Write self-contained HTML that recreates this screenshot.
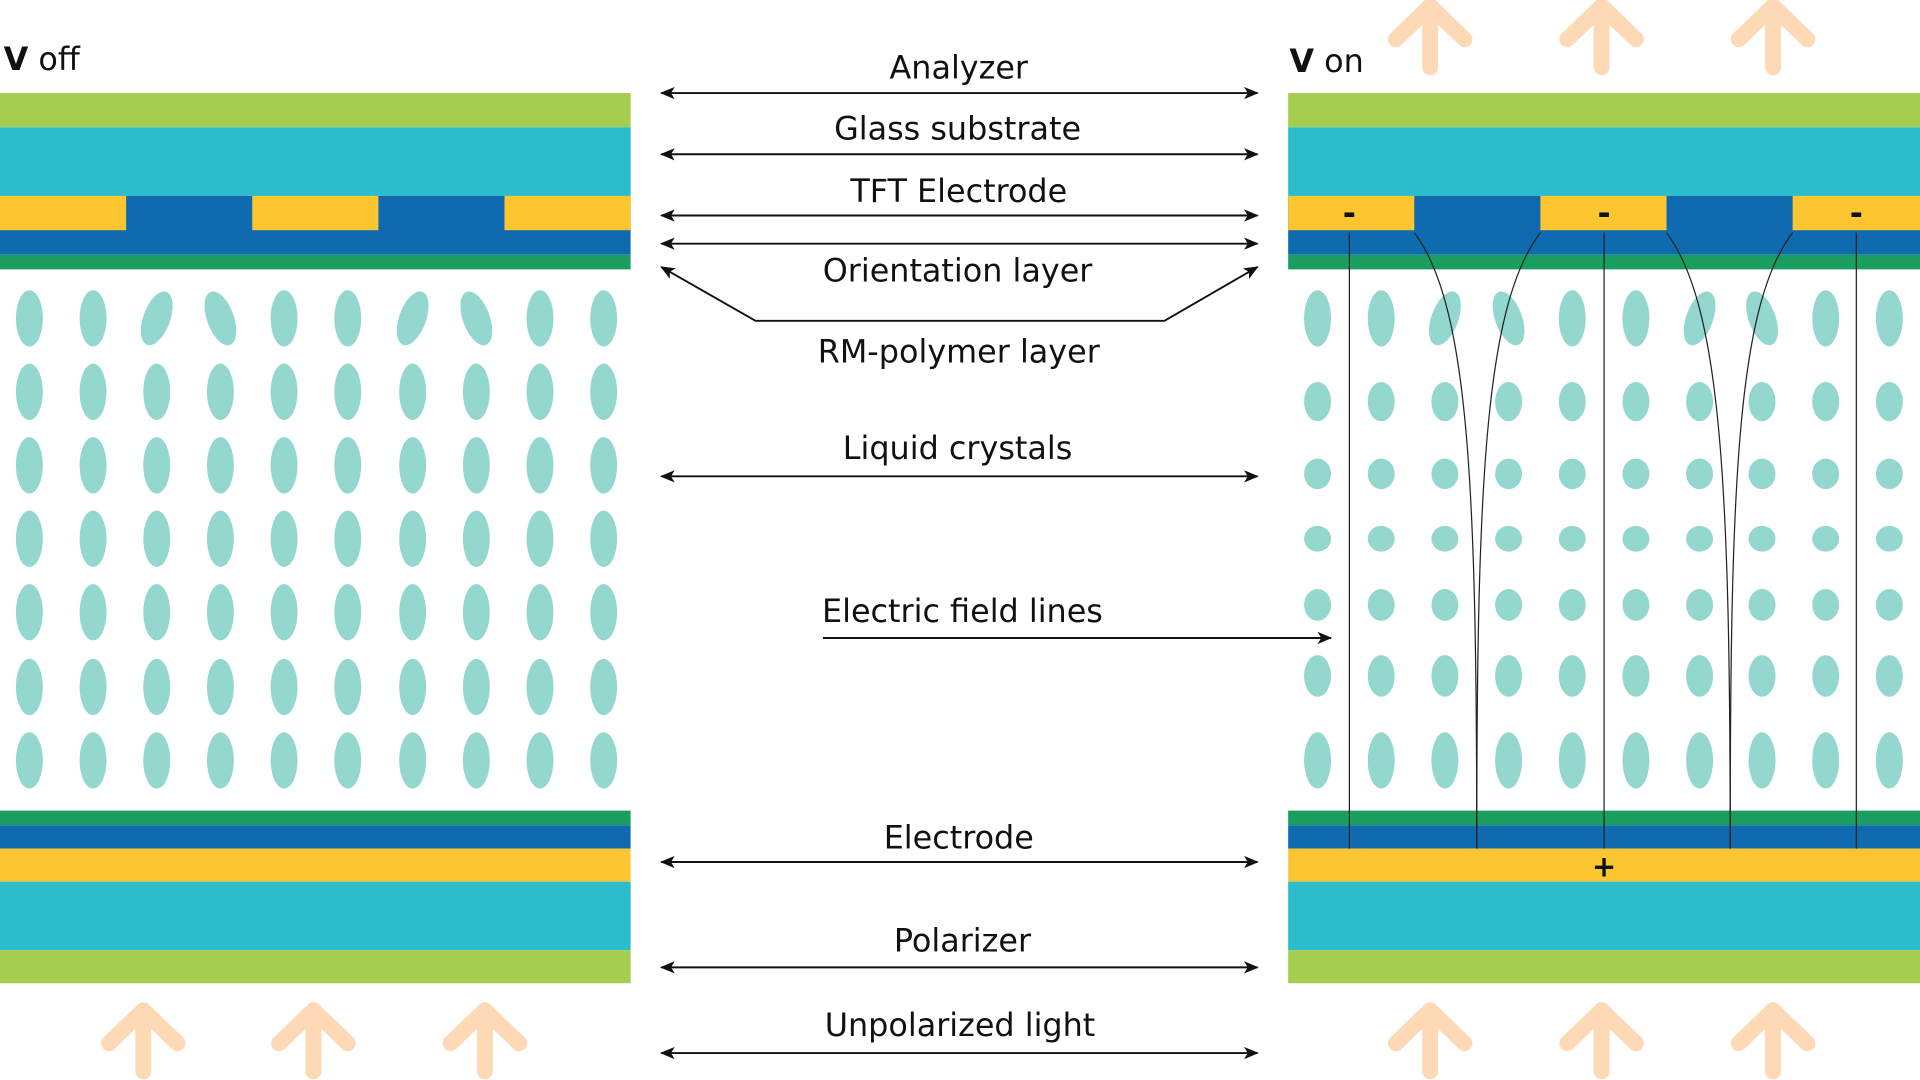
<!DOCTYPE html>
<html><head><meta charset="utf-8"><style>
html,body{margin:0;padding:0;background:#fff;width:1920px;height:1080px;overflow:hidden}
svg{display:block}
text{font-family:"DejaVu Sans","Liberation Sans",sans-serif;fill:#111}
</style></head><body>
<svg width="1920" height="1080" viewBox="0 0 1568 882" preserveAspectRatio="none" xmlns="http://www.w3.org/2000/svg">
<defs>
<marker id="ah" markerWidth="12" markerHeight="10" refX="11" refY="5" orient="auto-start-reverse" markerUnits="userSpaceOnUse">
<path d="M0,0 L12,5 L0,10 L3,5 Z" fill="#111"/></marker>
<g id="light"><path d="M0,55 L0,8 M-28,32 L0,5 L28,32" fill="none" stroke="#FDD9B5" stroke-width="13" stroke-linecap="round" stroke-linejoin="round"/></g>
</defs>
<g>
<rect x="0" y="76" width="515" height="28" fill="#A5CE50"/>
<rect x="0" y="104" width="515" height="56" fill="#2CBDCC"/>
<rect x="0" y="160" width="515" height="48" fill="#0F6AAF"/>
<rect x="0" y="160" width="103" height="28" fill="#FDC530"/>
<rect x="206" y="160" width="103" height="28" fill="#FDC530"/>
<rect x="412" y="160" width="103" height="28" fill="#FDC530"/>
<rect x="0" y="208" width="515" height="12" fill="#1A9E5F"/>
<rect x="0" y="662" width="515" height="12" fill="#1A9E5F"/>
<rect x="0" y="674" width="515" height="19" fill="#0F6AAF"/>
<rect x="0" y="693" width="515" height="27" fill="#FDC530"/>
<rect x="0" y="720" width="515" height="56" fill="#2CBDCC"/>
<rect x="0" y="776" width="515" height="27" fill="#A5CE50"/>
</g>
<g>
<rect x="1052" y="76" width="516" height="28" fill="#A5CE50"/>
<rect x="1052" y="104" width="516" height="56" fill="#2CBDCC"/>
<rect x="1052" y="160" width="516" height="48" fill="#0F6AAF"/>
<rect x="1052" y="160" width="103" height="28" fill="#FDC530"/>
<rect x="1258" y="160" width="103" height="28" fill="#FDC530"/>
<rect x="1464" y="160" width="104" height="28" fill="#FDC530"/>
<rect x="1052" y="208" width="516" height="12" fill="#1A9E5F"/>
<rect x="1052" y="662" width="516" height="12" fill="#1A9E5F"/>
<rect x="1052" y="674" width="516" height="19" fill="#0F6AAF"/>
<rect x="1052" y="693" width="516" height="27" fill="#FDC530"/>
<rect x="1052" y="720" width="516" height="56" fill="#2CBDCC"/>
<rect x="1052" y="776" width="516" height="27" fill="#A5CE50"/>
</g>
<g fill="#94D7CF" id="lc"></g>
<g fill="none" stroke="#222" stroke-width="1">
<path d="M1102,190 V693 M1310,190 V693 M1516,190 V693"/>
<path d="M1155,190 C1200,250 1206,400 1206,693"/>
<path d="M1258,190 C1212,250 1206,400 1206,693"/>
<path d="M1361,190 C1406,250 1413,400 1413,693"/>
<path d="M1464,190 C1418,250 1413,400 1413,693"/>
</g>
<g font-size="26" font-weight="bold" text-anchor="middle">
<text x="1102" y="183">-</text><text x="1310" y="183">-</text><text x="1516" y="183">-</text>
<text x="1310" y="716" font-size="24">+</text>
</g>
<g stroke="#111" stroke-width="1.6" fill="none">
<line x1="540" y1="76" x2="1027" y2="76" marker-start="url(#ah)" marker-end="url(#ah)"/>
<line x1="540" y1="126" x2="1027" y2="126" marker-start="url(#ah)" marker-end="url(#ah)"/>
<line x1="540" y1="176" x2="1027" y2="176" marker-start="url(#ah)" marker-end="url(#ah)"/>
<line x1="540" y1="199" x2="1027" y2="199" marker-start="url(#ah)" marker-end="url(#ah)"/>
<polyline points="540,218 617,262 951,262 1027,218" marker-start="url(#ah)" marker-end="url(#ah)"/>
<line x1="540" y1="389" x2="1027" y2="389" marker-start="url(#ah)" marker-end="url(#ah)"/>
<line x1="672" y1="521" x2="1087" y2="521" marker-end="url(#ah)"/>
<line x1="540" y1="704" x2="1027" y2="704" marker-start="url(#ah)" marker-end="url(#ah)"/>
<line x1="540" y1="790" x2="1027" y2="790" marker-start="url(#ah)" marker-end="url(#ah)"/>
<line x1="540" y1="860" x2="1027" y2="860" marker-start="url(#ah)" marker-end="url(#ah)"/>
</g>
<g font-size="26" text-anchor="middle">
<text x="783" y="64">Analyzer</text>
<text x="782" y="114">Glass substrate</text>
<text x="783" y="165">TFT Electrode</text>
<text x="782" y="230">Orientation layer</text>
<text x="783" y="296">RM-polymer layer</text>
<text x="782" y="375">Liquid crystals</text>
<text x="786" y="508">Electric field lines</text>
<text x="783" y="693">Electrode</text>
<text x="786" y="777">Polarizer</text>
<text x="784" y="846">Unpolarized light</text>
</g>
<text x="3" y="57" font-size="26"><tspan font-weight="bold">V</tspan> off</text>
<text x="1053" y="59" font-size="26"><tspan font-weight="bold">V</tspan> on</text>
<use href="#light" x="1168" y="0"/><use href="#light" x="1308" y="0"/><use href="#light" x="1448" y="0"/>
<use href="#light" x="117" y="820"/><use href="#light" x="256" y="820"/><use href="#light" x="396" y="820"/>
<use href="#light" x="1168" y="820"/><use href="#light" x="1308" y="820"/><use href="#light" x="1448" y="820"/>
<script>
var ns="http://www.w3.org/2000/svg",g=document.getElementById("lc");
function e(cx,cy,rx,ry,rot){var el=document.createElementNS(ns,"ellipse");el.setAttribute("cx",cx);el.setAttribute("cy",cy);el.setAttribute("rx",rx);el.setAttribute("ry",ry);if(rot)el.setAttribute("transform","rotate("+rot+" "+cx+" "+cy+")");g.appendChild(el);}
var lx=[24,76,128,180,232,284,337,389,441,493],ly=[260,320,380,440,500,561,621];
var tilt={2:20,3:-20,6:20,7:-20};
for(var i=0;i<10;i++)for(var j=0;j<7;j++)e(lx[i],ly[j],11,23,j==0?(tilt[i]||0):0);
var rx=[1076,1128,1180,1232,1284,1336,1388,1439,1491,1543];
var ry=[[260,23],[328,16],[387,12.5],[440,10.5],[494,13],[552,17],[621,23]];
for(var i=0;i<10;i++)for(var j=0;j<7;j++)e(rx[i],ry[j][0],11,ry[j][1],j==0?(tilt[i]||0):0);
</script>
</svg>
</body></html>
